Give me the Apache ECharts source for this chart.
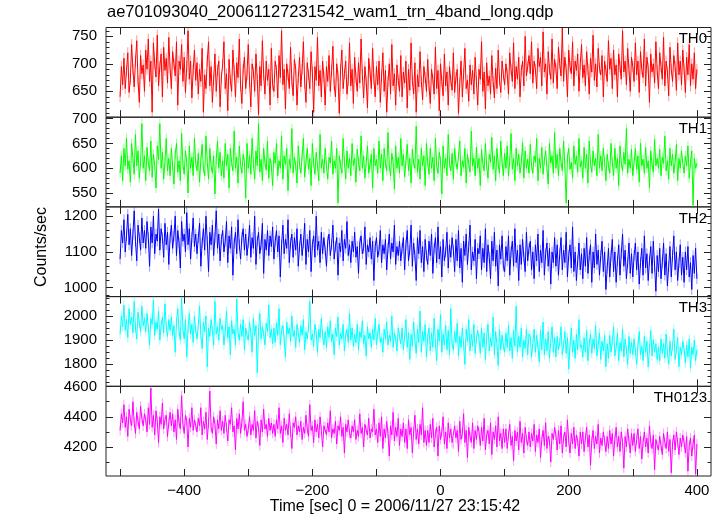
<!DOCTYPE html>
<html><head><meta charset="utf-8">
<script src="https://cdn.jsdelivr.net/npm/echarts@6/dist/echarts.min.js"></script>
<style>html,body{margin:0;padding:0;background:#fff}#c{width:723px;height:516px}</style>
</head><body><div id="c"></div>
<script>
// time bins (sec), relative to 2006/11/27 23:15:42
const timeStart = -500, timeStep = 2;
const panelNames = ['TH0','TH1','TH2','TH3','TH0123'];
const xTickValues = [-500,-400,-300,-200,-100,0,100,200,300,400];
const xLabelValues = [-400,-200,0,200,400];
const yLabelValues = [[650,700,750],[550,600,650,700],[1000,1100,1200],[1800,1900,2000],[4200,4400,4600]];
const yMinorStep = [10,10,20,25,100];
const yRanges = [[603,766],[522,703],[975,1226],[1709,2080],[4008,4602]];
const errBars = [10,10,15,20,33];

const th0 = [
640,695,662,710,655,688,720,648,672,735,690,658,705,742,668,630,715,682,698,650,
725,690,745,668,705,612,738,700,676,752,660,695,718,640,730,688,710,665,748,692,
655,722,700,678,740,625,705,690,735,668,712,648,695,760,672,705,638,688,725,670,
702,645,690,668,728,612,680,655,705,740,660,695,630,672,718,650,688,705,622,676,
698,740,655,682,615,708,670,650,725,688,640,702,675,745,660,628,690,712,655,680,
735,668,622,700,685,650,718,672,608,695,660,742,680,645,705,670,690,625,728,662,
650,705,688,638,715,675,760,662,690,618,700,680,655,730,668,642,708,690,625,675,
712,658,690,740,665,630,702,680,655,722,685,612,695,670,748,660,688,640,705,676,
625,695,668,715,650,688,732,662,640,700,678,610,690,725,655,682,705,645,670,738,
660,690,628,712,675,650,702,665,745,680,638,695,668,620,710,685,655,728,672,640,
695,662,705,630,678,720,650,688,612,668,700,645,735,660,682,625,698,670,650,715,
640,685,665,705,620,690,652,738,670,645,702,612,680,658,722,668,635,695,675,650,
708,660,628,690,672,645,730,655,688,615,700,668,642,718,660,685,625,695,670,652,
720,648,675,690,610,665,705,640,682,728,655,670,632,698,662,688,645,712,668,625,
690,672,740,650,685,618,702,660,678,645,715,668,638,692,655,725,670,648,705,680,
662,700,682,645,720,690,668,738,655,695,672,712,640,688,705,660,750,678,695,715,
682,740,665,705,690,655,728,695,712,660,758,685,700,645,722,690,672,745,665,708,
692,655,730,700,678,765,668,712,690,640,725,695,682,740,660,705,688,718,650,700,
735,675,698,660,722,690,645,710,685,752,670,700,658,728,692,680,715,640,705,688,
668,742,690,710,655,725,680,698,640,718,695,672,760,685,705,662,728,690,650,712,
695,668,738,680,705,648,722,690,675,745,660,712,692,630,718,685,700,665,740,688,
655,720,695,672,748,660,705,685,642,730,690,668,715,695,652,738,680,705,662,725,
690,648,712,680,735,660,700,672,720,655,690];
const th1 = [
590,625,575,640,605,660,598,615,572,650,620,588,668,605,635,580,612,690,600,625,
575,642,610,595,655,582,628,605,560,645,618,690,600,632,578,612,660,595,620,585,
640,605,568,628,650,592,615,575,670,608,588,635,612,550,645,600,622,585,660,610,
595,630,572,615,648,600,585,665,612,578,640,605,590,625,548,618,655,600,632,585,
615,580,650,605,628,560,640,612,595,675,600,622,570,645,608,590,628,612,540,650,
600,625,588,660,610,578,635,605,690,592,618,575,640,612,596,655,580,620,605,565,
632,610,650,585,615,600,665,578,625,608,640,555,618,600,680,590,622,605,570,645,
608,590,625,660,582,612,640,598,620,565,650,610,588,632,605,575,668,600,618,590,
640,605,578,622,610,655,588,615,600,640,530,625,608,590,660,612,578,635,600,620,
585,650,605,620,572,638,612,595,665,600,625,580,612,645,590,608,628,560,640,605,
618,590,655,600,628,575,640,610,595,672,605,585,630,612,558,645,600,622,590,660,
605,628,582,615,648,595,620,570,638,610,600,685,592,618,578,640,605,625,565,650,
612,588,640,600,622,575,660,605,590,632,615,548,645,600,620,585,668,610,595,630,
578,640,612,598,625,655,585,615,602,640,570,628,610,592,675,605,620,585,642,600,
620,565,638,610,595,650,605,580,628,612,662,598,625,575,640,608,590,655,612,585,
630,600,645,585,615,670,598,620,575,640,605,628,590,612,652,580,635,600,618,590,
648,605,590,625,612,660,575,620,600,642,588,615,635,600,568,650,610,625,590,672,
600,628,585,640,612,595,655,605,530,622,640,598,612,580,645,608,625,592,660,602,
615,580,642,600,628,570,655,610,592,635,605,620,585,668,600,625,595,640,612,575,
628,605,590,650,612,585,640,600,620,565,645,610,595,632,608,680,590,618,600,638,
585,612,640,598,625,572,650,605,618,590,642,600,615,560,635,608,592,658,605,620,
600,638,585,622,610,665,595,615,578,640,605,628,590,612,648,575,620,600,635,610,
590,625,605,645,580,612,635,525,620,600,610];
const th2 = [
1080,1160,1125,1190,1100,1145,1205,1120,1165,1090,1150,1215,1130,1075,1175,1140,1105,1195,1125,1160,
1110,1185,1140,1060,1170,1125,1200,1095,1150,1130,1220,1105,1165,1140,1085,1180,1120,1155,1065,1140,
1175,1110,1145,1200,1090,1160,1125,1055,1185,1130,1150,1100,1210,1120,1165,1080,1140,1195,1115,1150,
1095,1140,1180,1060,1125,1165,1105,1200,1130,1045,1155,1120,1175,1090,1140,1215,1110,1150,1075,1135,
1160,1100,1130,1185,1070,1145,1110,1170,1035,1125,1155,1095,1190,1120,1080,1140,1165,1105,1150,1090,
1125,1175,1085,1140,1110,1200,1065,1130,1155,1095,1120,1180,1040,1135,1105,1160,1090,1145,1115,1170,
1080,1130,1160,1100,1145,1030,1120,1175,1095,1135,1110,1190,1070,1125,1150,1085,1140,1105,1165,1060,
1115,1150,1090,1125,1180,1065,1135,1100,1160,1045,1120,1145,1085,1200,1105,1130,1070,1155,1095,1140,
1105,1060,1130,1150,1090,1120,1175,1080,1115,1140,1035,1125,1100,1160,1075,1135,1110,1185,1090,1120,
1070,1130,1100,1155,1085,1115,1040,1125,1145,1095,1110,1170,1065,1120,1100,1140,1080,1130,1020,1115,
1140,1085,1105,1160,1070,1120,1095,1135,1050,1110,1150,1080,1125,1100,1175,1065,1115,1090,1130,1075,
1110,1140,1050,1120,1160,1075,1105,1175,1060,1125,1090,1020,1140,1095,1160,1070,1115,1045,1135,1090,
1065,1130,1090,1150,1040,1110,1140,1070,1170,1080,1115,1030,1135,1075,1100,1155,1055,1120,1085,1140,
1105,1045,1135,1075,1160,1055,1110,1015,1130,1090,1150,1065,1115,1175,1050,1100,1075,1135,1025,1110,
1095,1145,1050,1110,1070,1165,1045,1120,1085,1025,1130,1075,1155,1060,1105,1005,1120,1080,1145,1060,
1045,1115,1075,1145,1035,1100,1130,1060,1165,1070,1105,1020,1120,1065,1135,1085,1045,1155,1075,1110,
1130,1050,1100,1025,1120,1075,1150,1045,1105,1070,1160,1035,1095,1125,1060,1110,1010,1100,1070,1140,
1060,1120,1035,1095,1140,1050,1105,1070,1155,1030,1090,1120,1055,1170,1045,1100,1020,1075,1125,1050,
1095,1025,1110,1060,1140,1040,1090,1120,1015,1100,1055,1150,1065,1105,1035,1090,1130,1045,1100,995,
1055,1110,1030,1090,1135,1045,1100,1015,1075,1120,1035,1095,1150,1060,1105,1025,1070,1125,1040,1095,
1030,1090,1125,1050,1100,1010,1070,1110,1035,1145,1055,1095,1020,1075,1115,1040,1130,1060,990,1090,
1045,1110,1025,1070,1125,1035,1095,1005,1060,1115,1030,1090,1145,1050,1100,1020,1070,1120,1035,1085,
1015,1100,1050,1115,1030,1070,995,1090,1040,1110,1025];
const th3 = [
1925,2000,1955,2045,1940,1985,1910,2030,1965,1995,1930,2060,1950,1905,2015,1970,1935,2040,1960,1990,
1935,2010,1950,1880,1990,1965,2065,1920,1975,1945,2020,1900,1960,1995,1930,2050,1955,1915,1985,1940,
1995,1920,1960,1850,1975,2030,1935,1900,2075,1945,1905,1985,1830,1950,2010,1925,1965,1890,2000,1940,
1905,1960,2040,1920,1865,1975,1935,2000,1790,1950,1915,1985,1940,1880,2060,1925,1955,1900,1990,1945,
1960,1880,1935,2020,1910,1955,1840,1980,1925,1945,1880,2070,1930,1900,1965,1915,1985,1860,1950,1920,
1900,1975,1930,1850,1990,1920,1960,1765,1940,2010,1905,1955,1925,1880,1970,1935,2045,1910,1945,1885,
1950,1890,1970,1920,2030,1880,1940,1960,1905,1830,1975,1925,1950,1895,2000,1915,1940,1870,1965,1930,
1890,1960,1920,1985,1860,1935,1905,1950,2060,1900,1925,1875,1965,1930,1850,1945,1910,1990,1920,1880,
1935,1870,1955,1910,1980,1895,1925,1840,1950,1915,1995,1880,1930,1905,1965,1855,1920,1945,1890,2010,
1900,1950,1875,1925,1890,1965,1860,1935,1910,1980,1885,1920,1835,1955,1905,1930,1870,1945,1900,1990,
1880,1925,1965,1890,1910,1850,1945,1905,1975,1880,1920,1895,2000,1870,1930,1905,1855,1950,1915,1885,
1950,1860,1915,1985,1870,1930,1820,1925,1875,1975,1900,1845,1945,1890,2020,1850,1935,1895,1965,1830,
1915,1950,1855,1930,1870,1990,1885,1815,1945,1895,2005,1850,1925,1880,1960,1860,1940,1840,2030,1885,
1860,1935,1890,1970,1835,1915,1870,1950,1880,1800,1945,1895,1985,1855,1925,1875,1965,1845,1905,1940,
1905,1845,1950,1870,1930,1820,1915,1965,1855,1910,1875,1995,1840,1935,1885,1795,1945,1860,1920,1875,
1850,1930,1870,1960,1855,1910,1825,1940,1875,2040,1850,1915,1870,1950,1830,1900,1865,1945,1840,1925,
1915,1830,1885,1945,1850,1920,1870,1810,1940,1860,1975,1840,1905,1855,1935,1825,1895,1955,1850,1910,
1830,1915,1860,1890,1955,1840,1880,1935,1845,1910,1780,1875,1950,1850,1900,1825,1925,1860,1985,1870,
1880,1830,1910,1850,1940,1815,1885,1925,1845,1905,1865,1960,1835,1880,1930,1820,1895,1855,1920,1790,
1885,1825,1920,1850,1895,1955,1835,1870,1930,1815,1890,1855,1945,1830,1905,1860,1800,1915,1845,1890,
1840,1905,1855,1800,1880,1935,1840,1875,1815,1915,1850,1895,1790,1865,1940,1835,1900,1850,1885,1820,
1870,1815,1905,1845,1885,1825,1925,1850,1800,1895,1835,1875,1945,1820,1860,1910,1790,1870,1840,1895,
1860,1805,1880,1830,1905,1785,1870,1840,1900,1815,1860];
const th0123 = [
4310,4420,4360,4480,4330,4400,4270,4450,4380,4340,4500,4360,4290,4430,4370,4320,4470,4390,4340,4420,
4380,4300,4460,4350,4590,4330,4410,4280,4440,4370,4230,4400,4350,4490,4320,4380,4410,4270,4360,4430,
4340,4420,4300,4380,4250,4450,4360,4320,4540,4350,4290,4410,4370,4200,4390,4330,4460,4310,4380,4340,
4300,4390,4340,4460,4280,4370,4320,4430,4250,4360,4570,4330,4290,4400,4350,4220,4380,4320,4440,4310,
4370,4290,4410,4330,4240,4380,4350,4460,4300,4340,4180,4390,4320,4420,4290,4360,4500,4310,4350,4270,
4320,4400,4280,4350,4310,4440,4260,4370,4330,4210,4380,4300,4450,4320,4350,4270,4390,4310,4360,4290,
4350,4270,4380,4320,4460,4290,4340,4230,4390,4310,4350,4280,4420,4300,4190,4360,4330,4400,4280,4340,
4300,4370,4250,4330,4290,4410,4320,4270,4480,4310,4340,4230,4380,4300,4350,4260,4400,4310,4200,4340,
4330,4280,4360,4300,4440,4260,4320,4290,4370,4220,4340,4310,4400,4270,4330,4160,4350,4300,4380,4290,
4260,4340,4300,4380,4250,4310,4270,4420,4290,4330,4200,4350,4310,4280,4390,4260,4320,4300,4450,4280,
4320,4230,4360,4270,4400,4190,4320,4260,4370,4290,4140,4340,4280,4430,4240,4330,4270,4390,4210,4320,
4270,4360,4230,4320,4190,4380,4280,4330,4160,4300,4410,4250,4320,4220,4350,4280,4460,4230,4310,4210,
4310,4230,4350,4260,4390,4200,4290,4330,4140,4340,4250,4300,4400,4220,4300,4190,4360,4260,4320,4230,
4220,4340,4260,4310,4170,4370,4250,4290,4420,4230,4310,4130,4330,4270,4230,4360,4190,4310,4250,4340,
4300,4210,4330,4240,4390,4180,4280,4310,4220,4360,4150,4300,4250,4340,4200,4400,4240,4290,4190,4320,
4230,4320,4190,4280,4350,4210,4270,4110,4310,4240,4300,4180,4370,4230,4290,4160,4330,4250,4210,4300,
4200,4290,4240,4350,4170,4280,4230,4320,4130,4250,4310,4210,4360,4190,4270,4240,4100,4290,4250,4330,
4280,4180,4310,4220,4340,4160,4260,4300,4200,4380,4240,4160,4290,4220,4330,4190,4280,4240,4140,4300,
4220,4300,4170,4260,4330,4200,4280,4080,4240,4310,4190,4270,4220,4350,4160,4260,4210,4300,4240,4170,
4270,4190,4310,4220,4290,4140,4250,4330,4200,4270,4170,4300,4230,4060,4270,4200,4320,4240,4160,4290,
4210,4290,4170,4250,4320,4190,4270,4120,4230,4300,4200,4260,4160,4340,4230,4190,4280,4050,4250,4210,
4180,4270,4210,4150,4290,4230,4190,4300,4170,4250,4030,4220,4280,4180,4300,4230,4150,4260,4200,4280,
4230,4160,4270,4040,4210,4260,4140,4220,4280,4020,4220];

const seriesValues = [th0, th1, th2, th3, th0123];
const colors = ['#ff0000','#00ff00','#0000ff','#00ffff','#ff00ff'];

const FONT = '"Liberation Sans", Arial, Helvetica, sans-serif';
const L = 106, R = 12, T = 27.5, H = 89.7;
const XMIN = -522, XMAX = 422;
const axisCol = '#222';
const minus = v => String(v).replace('-', '\u2212');

const option = {animation:false, grid:[], xAxis:[], yAxis:[], series:[], graphic:[]};

seriesValues.forEach((vals, k) => {
  const top = T + k*H;
  option.grid.push({left:L, right:R, top:top, height:H, show:true, borderColor:axisCol, borderWidth:1, backgroundColor:'transparent'});
  ['bottom','top'].forEach(pos => {
    option.xAxis.push({
      gridIndex:k, type:'value', min:XMIN, max:XMAX, position:pos,
      axisLine:{show:false, onZero:false}, splitLine:{show:false},
      axisTick:{show:true, inside:true, length:7, customValues:xTickValues, lineStyle:{color:axisCol, width:1}},
      axisLabel:{show:(k===4 && pos==='bottom'), customValues:xLabelValues, formatter:minus,
        fontFamily:FONT, fontSize:15, color:'#000', margin:7}
    });
  });
  const [ymin, ymax] = yRanges[k];
  const minorVals = [];
  for (let v = Math.ceil(ymin/yMinorStep[k])*yMinorStep[k]; v <= ymax; v += yMinorStep[k]) minorVals.push(v);
  ['left','right'].forEach(pos => {
    option.yAxis.push({
      gridIndex:k, type:'value', min:ymin, max:ymax, position:pos,
      axisLine:{show:false, onZero:false}, splitLine:{show:false},
      axisTick:{show:true, inside:true, length:7, customValues:yLabelValues[k], lineStyle:{color:axisCol, width:1}},
      axisLabel:{show:pos==='left', customValues:yLabelValues[k], formatter:v => String(v),
        fontFamily:FONT, fontSize:15, color:'#000', margin:9}
    });
    option.yAxis.push({
      gridIndex:k, type:'value', min:ymin, max:ymax, position:pos,
      axisLine:{show:false, onZero:false}, splitLine:{show:false},
      axisTick:{show:true, inside:true, length:3.5, customValues:minorVals, lineStyle:{color:axisCol, width:1}},
      axisLabel:{show:false}
    });
  });
  const pts = vals.map((v,i) => [timeStart + i*timeStep, v]);
  const err = errBars[k];
  const col = colors[k];
  option.series.push({
    type:'custom', xAxisIndex:2*k, yAxisIndex:4*k, data:pts, clip:true, z:1,
    renderItem:(params, api) => {
      const x = api.value(0), y = api.value(1);
      const p1 = api.coord([x, y-err]), p2 = api.coord([x, y+err]);
      return {type:'line', shape:{x1:p1[0], y1:p1[1], x2:p2[0], y2:p2[1]}, style:{stroke:col, lineWidth:1, opacity:0.4}};
    }
  });
  option.series.push({
    type:'line', xAxisIndex:2*k, yAxisIndex:4*k, data:pts, showSymbol:false, symbol:'none', clip:true, z:2,
    lineStyle:{color:col, width:1}, itemStyle:{color:col}
  });
  option.graphic.push({type:'text', right:16, top:top+4, style:{text:panelNames[k], font:'15px '+FONT, fill:'#000'}});
});

option.graphic.push({type:'text', left:107, top:4, style:{text:'ae701093040_20061127231542_wam1_trn_4band_long.qdp', font:'16.5px '+FONT, fill:'#000'}});
option.graphic.push({type:'text', x:42, y:247, rotation:Math.PI/2, style:{text:'Counts/sec', font:'16px '+FONT, fill:'#000', align:'center', verticalAlign:'middle'}});
option.graphic.push({type:'text', x:395, y:507, style:{text:'Time [sec] 0 = 2006/11/27 23:15:42', font:'16px '+FONT, fill:'#000', align:'center', verticalAlign:'middle'}});

const chart = echarts.init(document.getElementById('c'), null, {renderer:'canvas'});
chart.setOption(option);
</script>
</body></html>
